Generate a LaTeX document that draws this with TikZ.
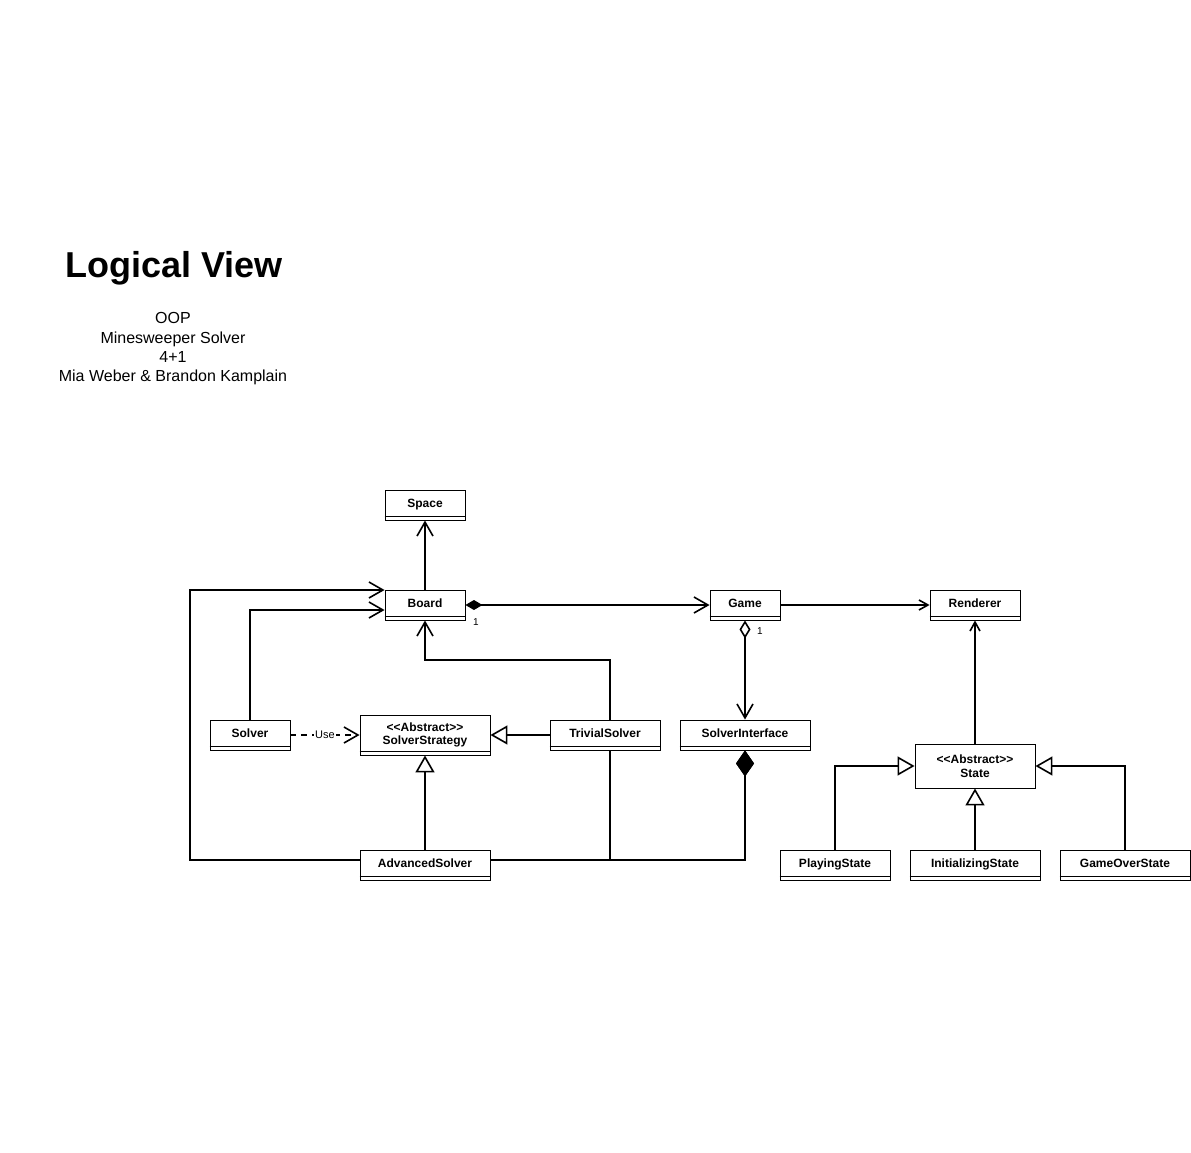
\documentclass[tikz,border=0pt]{standalone}
\usepackage{fontspec}
\setmainfont{Liberation Sans}
\usetikzlibrary{arrows.meta}

\begin{document}
\begin{tikzpicture}[x=1pt,y=-1pt,line width=1.6pt,line join=miter]
    \tikzstyle{box}=[draw,line width=0.9pt,fill=white,inner sep=0pt,align=center,font=\fontsize{12}{13.5}\selectfont\bfseries]
    \tikzstyle{class}=[box,minimum height=30pt,text height=8.6pt,text depth=4pt]
    \tikzstyle{assoc}=[-{Straight Barb[length=14pt,width=16pt]}]
    \tikzstyle{thin assoc}=[-{Straight Barb[length=9pt,width=10pt]}]
    \tikzstyle{inherit}=[-{Triangle[open,fill=white,length=17pt,width=19pt]}]
    \tikzstyle{compose}=[{Diamond[length=17pt,width=10pt]}-{Straight Barb[length=14pt,width=16pt]}]
    \tikzstyle{aggregate}=[{Diamond[open,fill=white,length=18pt,width=11pt]}-{Straight Barb[length=14pt,width=16pt]}]
    \tikzstyle{part of}=[-{Diamond[length=26pt,width=18pt]}]
    \tikzstyle{uses}=[assoc,dash pattern=on 6pt off 5pt]
    \tikzstyle{mult}=[font=\fontsize{10}{12}\selectfont,inner sep=0pt]

    \useasboundingbox (0,0) rectangle (1191,1153);
    \fill[white] (0,0) rectangle (1191,1153);

    % heading
    \node[font=\fontsize{36}{40}\selectfont\bfseries] (title) at (174,268) {Logical View};
    \node[font=\fontsize{16}{19.3}\selectfont,align=center] (subtitle) at (173,349)
    {OOP\\Minesweeper Solver\\4+1\\Mia Weber \& Brandon Kamplain};

    % classes
    \node[class,minimum width=80pt] (space) at (425,505) {Space};
    \node[class,minimum width=80pt] (board) at (425,605) {Board};
    \node[class,minimum width=70pt] (game) at (745,605) {Game};
    \node[class,minimum width=90pt] (renderer) at (975,605) {Renderer};
    \node[class,minimum width=80pt] (solver) at (250,735) {Solver};
    \node[box,minimum width=130pt,minimum height=40pt] (strategy) at (425,735) {{<}{<}Abstract{>}{>}\\SolverStrategy};
    \node[class,minimum width=110pt] (trivial) at (605,735) {TrivialSolver};
    \node[class,minimum width=130pt] (iface) at (745,735) {SolverInterface};
    \node[box,minimum width=120pt,minimum height=44pt] (state) at (975,766) {{<}{<}Abstract{>}{>}\\State};
    \node[class,minimum width=130pt] (advanced) at (425,865) {AdvancedSolver};
    \node[class,minimum width=110pt] (playing) at (835,865) {PlayingState};
    \node[class,minimum width=130pt] (init) at (975,865) {InitializingState};
    \node[class,minimum width=130pt] (gameover) at (1125,865) {GameOverState};

    \foreach \n in {space,board,game,renderer,solver,strategy,trivial,iface,advanced,playing,init,gameover}
    \draw[line width=0.9pt] ([yshift=4pt]\n.south west) -- ([yshift=4pt]\n.south east);

    % bends
    \coordinate (left bend) at (190,860);
    \coordinate (top bend) at (610,660);

    % associations
    \draw[assoc] (board) -- (space);
    \draw[compose] (board) -- (game);
    \node[mult] (board-1) at (476,622) {1};
    \draw[thin assoc] (game) -- (renderer);
    \draw[aggregate] (game) -- (iface);
    \node[mult] (game-1) at (760,631) {1};
    \draw[thin assoc] (state) -- (renderer);
    \draw[assoc] (solver) |- ([yshift=-5pt]board.west);
    \draw[assoc] ([yshift=5pt]advanced.west) -- (left bend) |- ([yshift=-0.45pt]board.north west);
    \draw[assoc] ([xshift=5pt]trivial.north) -- (top bend) -| (board);
    \draw[uses] (solver) -- node[fill=white,font=\fontsize{11}{12}\selectfont,inner sep=1pt] (use) {Use} (strategy);

    % composition with the interface
    \draw[part of] ([xshift=5pt]trivial.south) -- ++(0,110) -| (iface.south);
    \draw[part of] ([yshift=5pt]advanced.east) -| (iface.south);

    % inheritance
    \draw[inherit] (trivial) -- (strategy);
    \draw[inherit] (advanced) -- (strategy);
    \foreach \s in {playing,gameover}
    \draw[inherit] (\s) |- (state);
    \draw[inherit] (init) -- (state);
\end{tikzpicture}
\end{document}
